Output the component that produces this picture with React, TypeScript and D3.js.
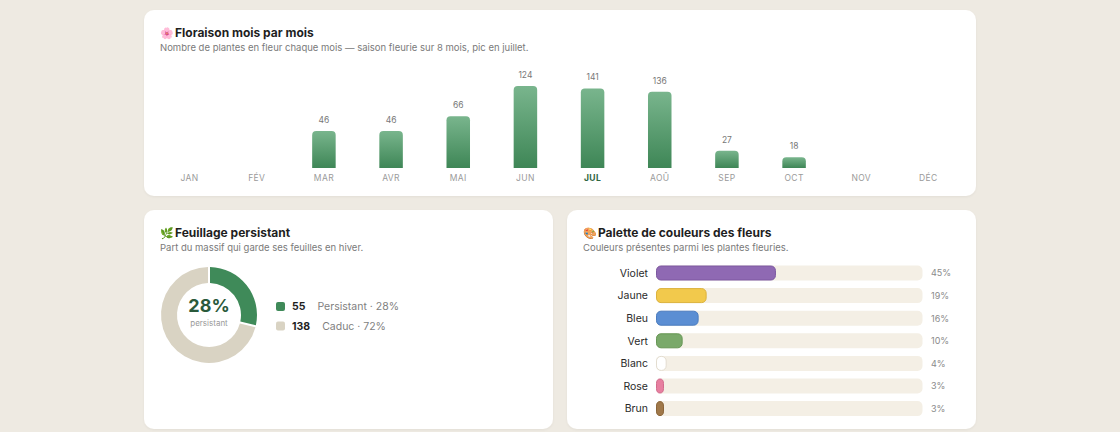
import * as d3 from "d3";

// monthly bloom
const months = ["JAN", "FÉV", "MAR", "AVR", "MAI", "JUN", "JUL", "AOÛ", "SEP", "OCT", "NOV", "DÉC"];
const bloomCounts = [0, 0, 46, 46, 66, 124, 141, 136, 27, 18, 0, 0];
// relative bar height as drawn (0-100)
const bloomIntensity = [0, 0, 45, 45, 63, 100, 97, 93, 21, 13, 0, 0];
const peakMonth = "JUL";

// evergreen foliage
const foliageLabels = ["Persistant", "Caduc"];
const foliageCounts = [55, 138];
const foliagePct = [28, 72];
const foliageColors = ["#3f8a59", "#d9d3c3"];

// flower colours
const paletteNames = ["Violet", "Jaune", "Bleu", "Vert", "Blanc", "Rose", "Brun"];
const paletteShares = [45, 19, 16, 10, 4, 3, 3];
const paletteFills = ["#8f69b3", "#f2c94c", "#5b8ed3", "#7aa96a", "#ffffff", "#e77fa0", "#a0784a"];
const paletteStrokes = ["#7c58a0", "#dcb23c", "#4a7cc0", "#679756", "#e3ddd0", "#d26b8c", "#8a6438"];

const W = 1120;
const H = 432;
const font = "Inter, 'DejaVu Sans', sans-serif";

function Card({ x, y, w, h, emoji, title, subtitle }: any) {
  return (
    <g>
      <rect x={x} y={y} width={w} height={h} rx={10} fill="#fff" filter="url(#shadow)" />
      <text x={x + 16} y={y + 27} fontSize={11} fontFamily="'Noto Color Emoji', sans-serif">{emoji}</text>
      <text x={x + 31} y={y + 27} fontSize={12} fontWeight={700} fill="#1f1f1f">{title}</text>
      <text x={x + 16} y={y + 41} fontSize={9.5} fill="#7a7a7a">{subtitle}</text>
    </g>
  );
}

function BloomChart() {
  const x = d3.scaleBand<string>().domain(months).range([156, 962]).paddingInner(0.65).paddingOuter(0.325);
  const y = d3.scaleLinear().domain([0, 100]).range([168, 86]);
  return (
    <g>
      {months.map((m, i) => {
        const v = bloomCounts[i];
        const cx = x(m)! + x.bandwidth() / 2;
        const top = y(bloomIntensity[i]);
        const bh = y(0) - top;
        const bw = x.bandwidth();
        const r = Math.min(4, bh);
        const path = d3.path();
        if (v > 0) {
          path.moveTo(x(m)!, y(0));
          path.lineTo(x(m)!, top + r);
          path.quadraticCurveTo(x(m)!, top, x(m)! + r, top);
          path.lineTo(x(m)! + bw - r, top);
          path.quadraticCurveTo(x(m)! + bw, top, x(m)! + bw, top + r);
          path.lineTo(x(m)! + bw, y(0));
          path.closePath();
        }
        const isPeak = m === peakMonth;
        return (
          <g key={m}>
            {v > 0 && <path d={path.toString()} fill="url(#barGrad)" />}
            {v > 0 && (
              <text x={cx} y={Math.max(top - 8, 77)} textAnchor="middle" fontSize={8.5} fill="#777">
                {v}
              </text>
            )}
            <text
              x={cx}
              y={181}
              textAnchor="middle"
              fontSize={8.5}
              letterSpacing={0.4}
              fontWeight={isPeak ? 700 : 400}
              fill={isPeak ? "#2d6540" : "#9a9a9a"}
            >
              {m}
            </text>
          </g>
        );
      })}
    </g>
  );
}

function FoliageDonut() {
  const cx = 209;
  const cy = 315;
  const pie = d3.pie<number>().sort(null).padAngle(0.035)(foliageCounts);
  const arc = d3.arc<d3.PieArcDatum<number>>().innerRadius(32).outerRadius(48);
  return (
    <g>
      <g transform={`translate(${cx},${cy})`}>
        {pie.map((d, i) => (
          <path key={i} d={arc(d)!} fill={foliageColors[i]} />
        ))}
        <text y={-3} textAnchor="middle" fontSize={18} fontWeight={700} fill="#2a5a3b">
          {foliagePct[0]}%
        </text>
        <text y={11} textAnchor="middle" fontSize={8} fill="#9a9a9a">
          persistant
        </text>
      </g>
      {foliageLabels.map((l, i) => (
        <g key={l} transform={`translate(276,${302 + i * 19.5})`}>
          <rect width={9} height={9} rx={2} fill={foliageColors[i]} />
          <text x={16} y={8} fontSize={10.5}>
            <tspan fontWeight={700} fill="#1f1f1f">{foliageCounts[i]}</tspan>
            <tspan dx={12} fill="#7f7f7f">{`${l} · ${foliagePct[i]}%`}</tspan>
          </text>
        </g>
      ))}
    </g>
  );
}

function PaletteBars() {
  const y = d3.scalePoint<string>().domain(paletteNames).range([273, 408.6]);
  const x = d3.scaleLinear().domain([0, 100]).range([656, 922.5]);
  const bh = 15;
  return (
    <g>
      {paletteNames.map((n, i) => {
        const cy = y(n)!;
        return (
          <g key={n}>
            <text x={648} y={cy + 3.8} textAnchor="end" fontSize={10.5} fill="#2a2a2a">{n}</text>
            <rect x={x(0)} y={cy - bh / 2} width={x(100) - x(0)} height={bh} rx={5} fill="#f4efe5" />
            <rect
              x={x(0) + 0.5}
              y={cy - bh / 2 + 0.5}
              width={Math.max(x(paletteShares[i]) - x(0) - 1, 6)}
              height={bh - 1}
              rx={4.5}
              fill={paletteFills[i]}
              stroke={paletteStrokes[i]}
              strokeWidth={1}
            />
            <text x={931} y={cy + 3.3} fontSize={9} fill="#8a8a8a">{paletteShares[i]}%</text>
          </g>
        );
      })}
    </g>
  );
}

export default function App() {
  return (
    <svg
      width={W}
      height={H}
      style={{ position: "fixed", left: 0, top: 0, fontFamily: font }}
      fontFamily={font}
    >
      <defs>
        <linearGradient id="barGrad" x1="0" y1="0" x2="0" y2="1">
          <stop offset="0%" stopColor="#79b58d" />
          <stop offset="100%" stopColor="#3e8656" />
        </linearGradient>
        <filter id="shadow" x="-5%" y="-5%" width="110%" height="110%">
          <feDropShadow dx="0" dy="1" stdDeviation="1" floodColor="#000" floodOpacity="0.05" />
        </filter>
      </defs>
      <rect width={W} height={H} fill="#eeeae2" />
      <Card
        x={144}
        y={10}
        w={832}
        h={186}
        emoji="🌸"
        title="Floraison mois par mois"
        subtitle="Nombre de plantes en fleur chaque mois — saison fleurie sur 8 mois, pic en juillet."
      />
      <BloomChart />
      <Card
        x={144}
        y={210}
        w={409}
        h={219}
        emoji="🌿"
        title="Feuillage persistant"
        subtitle="Part du massif qui garde ses feuilles en hiver."
      />
      <FoliageDonut />
      <Card
        x={567}
        y={210}
        w={409}
        h={219}
        emoji="🎨"
        title="Palette de couleurs des fleurs"
        subtitle="Couleurs présentes parmi les plantes fleuries."
      />
      <PaletteBars />
    </svg>
  );
}
